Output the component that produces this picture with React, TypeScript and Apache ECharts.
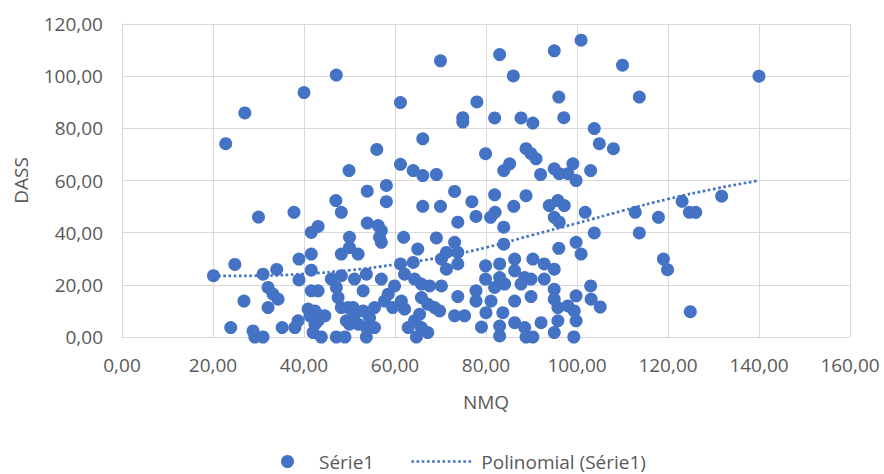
import React, { useEffect, useRef } from "react";
import * as echarts from "echarts";

// [NMQ, DASS] pairs
const serie1Points: [number, number][] = [
  [20.1, 23.5], [22.8, 74.1], [23.9, 3.6], [24.8, 27.8], [26.8, 13.8], [27.0, 85.9], [28.8, 2.3], [29.2, 0], [30.0, 46], [31.0, 0],
  [31.0, 24.1], [32.1, 19], [32.1, 11.3], [33.2, 16.4], [34.0, 25.9], [34.3, 14.5], [35.2, 3.6], [37.8, 47.8], [38.0, 3.6], [38.7, 6.2],
  [38.9, 29.9], [38.9, 21.9], [40.0, 93.7], [40.9, 10.7], [41.3, 8.1], [41.6, 40.1], [41.6, 31.8], [41.6, 25.6], [41.6, 17.7], [42.0, 1.7],
  [42.4, 4.9], [42.4, 10], [43.1, 42.4], [43.1, 17.7], [43.1, 6.2], [43.5, 8.1], [43.8, 0], [44.6, 8.1], [46.0, 22.2], [47.0, 52.3],
  [47.1, 100.4], [47.1, 19], [47.1, 0], [47.5, 15.1], [48.2, 47.8], [48.2, 23.5], [48.2, 11.3], [48.2, 31.8], [49.0, 0], [49.3, 6.2],
  [49.7, 11.3], [49.9, 63.8], [50.0, 38.2], [50.0, 34.3], [50.0, 4.9], [50.8, 11.3], [51.1, 22.2], [51.1, 8.7], [51.9, 31.8], [51.9, 4.9],
  [53.0, 17.7], [53.0, 10], [53.7, 24.1], [53.7, 3.6], [53.7, 0], [53.9, 55.9], [53.9, 43.7], [54.4, 7.4], [55.5, 11.3], [55.5, 3.6],
  [56.0, 71.9], [56.3, 42.7], [56.6, 38.2], [57.0, 40.8], [57.0, 36.3], [57.0, 22.2], [57.7, 13.8], [58.1, 58.1], [58.1, 51.9], [58.5, 16.4],
  [59.5, 11.3], [59.9, 19.6], [61.2, 89.9], [61.2, 66.2], [61.2, 28], [61.4, 13.8], [61.9, 38.2], [62.1, 24.1], [62.1, 10.7], [62.9, 3.6],
  [64.0, 63.8], [64.0, 28.6], [64.3, 22.2], [64.3, 6.2], [64.7, 0], [65.0, 33.7], [65.4, 8.7], [65.8, 20.3], [65.8, 15.1], [65.8, 3.6],
  [66.1, 76], [66.1, 61.9], [66.1, 50.1], [67.2, 12.6], [67.2, 1.7], [67.6, 19.6], [68.7, 11.3], [69.1, 62.3], [69.1, 38], [69.8, 10],
  [70.0, 105.9], [70.0, 50.1], [70.2, 29.9], [70.2, 19.6], [71.3, 32.4], [71.3, 26], [73.1, 55.8], [73.1, 36.3], [73.1, 8.1], [73.8, 44],
  [73.8, 32.4], [73.8, 28], [73.8, 15.5], [74.9, 84.1], [74.9, 82.4], [75.3, 8.1], [76.9, 51.9], [77.8, 46.2], [77.8, 17.7], [77.8, 13.8],
  [78.0, 90.1], [79.0, 3.8], [79.9, 70.3], [79.9, 27.3], [79.9, 22.2], [80.0, 9.3], [81.0, 45.9], [81.1, 13.8], [81.9, 84], [81.9, 54.5],
  [81.9, 19], [82.0, 47.8], [83.0, 108.3], [83.0, 28], [83.0, 22.8], [83.0, 4.2], [83.0, 0.4], [83.7, 9.3], [83.9, 63.8], [83.9, 42.1],
  [83.9, 35.6], [84.1, 20.3], [85.2, 66.4], [86.0, 100.1], [86.1, 50.1], [86.3, 29.9], [86.3, 25.4], [86.3, 13.8], [86.3, 5.5], [87.7, 84],
  [87.7, 20.3], [88.5, 22.8], [88.5, 3.6], [88.8, 72.2], [88.8, 54.2], [88.8, 0], [89.9, 70.3], [89.9, 22.2], [89.9, 15.5], [90.3, 82],
  [90.3, 29.9], [90.3, 0], [91.0, 68.3], [92.0, 62.3], [92.1, 5.5], [92.8, 28], [92.8, 22.2], [93.9, 50.4], [95.0, 109.7], [95.0, 64.5],
  [95.0, 45.9], [95.0, 26], [95.0, 18.3], [95.0, 14.5], [95.0, 1.7], [95.8, 52.3], [95.8, 11.3], [95.8, 6.2], [96.0, 92], [96.0, 34],
  [96.1, 62.6], [96.1, 44], [97.1, 84.1], [97.2, 50.4], [98.0, 62.6], [98.0, 11.9], [99.1, 66.4], [99.3, 0], [99.4, 10], [99.8, 60],
  [99.8, 36.3], [99.8, 15.8], [99.8, 6.2], [100.9, 113.8], [100.9, 31.8], [101.8, 47.8], [103.0, 63.8], [103.0, 19.6], [103.1, 14.5], [103.8, 79.9],
  [103.8, 39.9], [104.9, 74.1], [105.1, 11.5], [108.0, 72.2], [110.0, 104.2], [112.8, 47.8], [113.7, 92], [113.7, 39.9], [117.9, 45.9], [119.0, 29.9],
  [119.9, 25.8], [123.1, 52], [124.7, 47.8], [124.9, 9.7], [126.1, 47.8], [131.8, 54], [140.0, 100],
];

// polynomial trendline
const trendNmq = [20, 30, 40, 50, 60, 70, 80, 90, 100, 110, 120, 130, 140];
const trendDass = [23.4, 23.5, 24.2, 25.6, 27.8, 30.6, 34.3, 39.0, 43.6, 48.4, 52.9, 56.7, 60.0];

const xMin = 0, xMax = 160, xStep = 20;
const yMin = 0, yMax = 120, yStep = 20;

const seriesName = "Série1";
const trendName = "Polinomial (Série1)";
const xTitle = "NMQ";
const yTitle = "DASS";

const FONT = "'Open Sans', sans-serif";
const TEXT = "#595959";
const BLUE = "#4472C4";
const GRID = "#d9d9d9";

const fmt = (v: number) => v.toFixed(2).replace(".", ",");

export default function App() {
  const ref = useRef<HTMLDivElement>(null);
  useEffect(() => {
    if (!ref.current) return;
    const chart = echarts.init(ref.current, undefined, { renderer: "svg" });
    chart.setOption({
      animation: false,
      backgroundColor: "#ffffff",
      grid: { left: 122, right: 34, top: 24, bottom: 137, containLabel: false },
      xAxis: {
        type: "value",
        min: xMin,
        max: xMax,
        interval: xStep,
        name: xTitle,
        nameLocation: "middle",
        nameGap: 55,
        nameTextStyle: { fontFamily: FONT, fontSize: 19, color: TEXT },
        axisLine: { show: true, lineStyle: { color: GRID, width: 1 } },
        axisTick: { show: false },
        axisLabel: { formatter: fmt, fontFamily: FONT, fontSize: 19, color: TEXT, margin: 18 },
        splitLine: { show: true, lineStyle: { color: GRID, width: 1 } },
      },
      yAxis: {
        type: "value",
        min: yMin,
        max: yMax,
        interval: yStep,
        name: yTitle,
        nameLocation: "middle",
        nameGap: 92,
        nameRotate: 90,
        nameTextStyle: { fontFamily: FONT, fontSize: 19, color: TEXT },
        axisLine: { show: true, lineStyle: { color: GRID, width: 1 } },
        axisTick: { show: false },
        axisLabel: { formatter: fmt, fontFamily: FONT, fontSize: 19, color: TEXT, margin: 19 },
        splitLine: { show: true, lineStyle: { color: GRID, width: 1 } },
      },
      legend: [
        {
          data: [{ name: seriesName, icon: "circle" }],
          left: 276,
          top: 447,
          itemWidth: 13,
          itemHeight: 13,
          textStyle: { fontFamily: FONT, fontSize: 19, color: TEXT, padding: [0, 0, 0, 20] },
        },
        {
          data: [{ name: trendName }],
          left: 405,
          top: 447,
          itemWidth: 62,
          itemHeight: 14,
          itemStyle: { opacity: 0 },
          lineStyle: { color: BLUE, width: 2.7, type: [2.6, 2.6], opacity: 1 },
          textStyle: { fontFamily: FONT, fontSize: 19, color: TEXT, padding: [0, 0, 0, 3] },
        },
      ],
      series: [
        {
          name: seriesName,
          type: "scatter",
          symbol: "circle",
          symbolSize: 13,
          itemStyle: { color: BLUE, opacity: 1 },
          data: serie1Points,
          z: 2,
        },
        {
          name: trendName,
          type: "line",
          smooth: true,
          symbol: "none",
          showSymbol: false,
          lineStyle: { color: BLUE, width: 2.7, type: [2.6, 2.6] },
          itemStyle: { color: BLUE },
          data: trendNmq.map((x, i) => [x, trendDass[i]]),
          z: 3,
        },
      ],
    });
    return () => chart.dispose();
  }, []);
  return (
    <div
      ref={ref}
      style={{ position: "fixed", left: 0, top: 0, width: 884, height: 474, background: "#fff" }}
    />
  );
}
